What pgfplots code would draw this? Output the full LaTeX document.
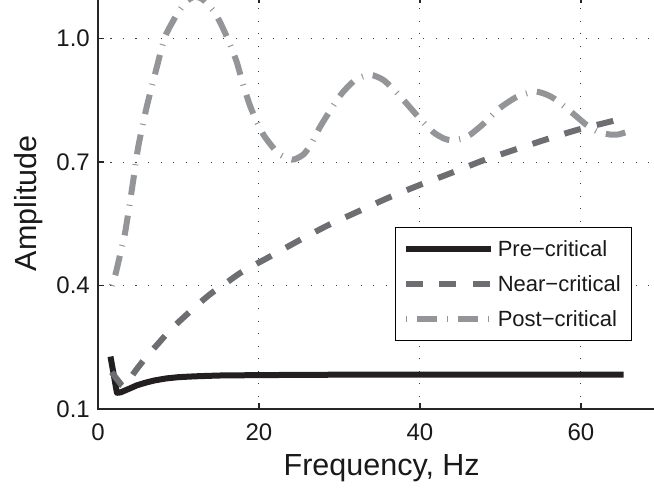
\documentclass[border=0pt]{standalone}
\usepackage{fontspec}
\setmainfont{Liberation Sans}
\usepackage{pgfplots}
\pgfplotsset{compat=1.18}
\definecolor{cpre}{HTML}{231F20}
\definecolor{cnear}{HTML}{6D6E71}
\definecolor{cpost}{HTML}{939598}
\begin{document}
\begin{tikzpicture}
\begin{axis}[
  at={(98pt,80.7pt)}, anchor=south west,
  scale only axis, width=563.5pt, height=412pt,
  xmin=0, xmax=70, ymin=0.1, ymax=1.1,
  xtick={0,20,40,60}, xticklabels={0,20,40,60},
  ytick={0.1,0.4,0.7,1.0}, yticklabels={0.1,0.4,0.7,1.0},
  /pgf/number format/assume math mode=true,
  tick align=inside, major tick length=6pt,
  tick style={line width=1.3pt, color=black!85},
  axis line style={line width=1.8pt, color=black!85},
  grid=major,
  major grid style={line width=1pt, color=black!75, dash pattern=on 1.2pt off 11.3pt},
  ticklabel style={font=\fontsize{24}{28}\selectfont, inner sep=0pt, text=black!90},
  xticklabel style={anchor=north, yshift=-14.5pt},
  yticklabel style={anchor=east, xshift=-8pt},
  xlabel={Frequency, Hz}, ylabel={Amplitude},
  label style={font=\fontsize{30.5}{36}\selectfont, inner sep=0pt, text=black!90},
  xlabel style={at={(axis description cs:0.5035,-0.1595)}, anchor=base},
  ylabel style={at={(axis description cs:-0.1083,0.5)}, anchor=base},
  legend style={at={(axis description cs:0.9482,0.4432)}, anchor=north east,
    draw=black, line width=1.3pt, fill=white, inner xsep=7pt, inner ysep=8.5pt,
    row sep=9pt, font=\fontsize{22}{26}\selectfont, text=black!90,
    nodes={inner xsep=4pt, inner ysep=2pt, text height=19pt, text depth=3pt}},
  legend cell align=left,
  legend image code/.code={\draw[#1] (0pt,0pt) -- (85pt,0pt);},
]
\addplot[color=cpre, line width=6pt, line join=round]
  coordinates {(1.55,0.228) (1.9,0.19) (2.35,0.14) (2.8,0.141) (3.4,0.146)
  (4.0,0.151) (4.8,0.158) (5.8,0.164) (7.0,0.170) (8.5,0.175) (10,0.178)
  (12,0.180) (15,0.182) (20,0.183) (30,0.184) (40,0.184) (50,0.184)
  (60,0.184) (65.3,0.184)};
\addlegendentry{Pre−critical}
\addplot[color=cnear, line width=6pt, smooth, tension=0.4, dash pattern=on 17pt off 16.5pt]
  coordinates {(1.7,0.19) (2.4,0.172) (3.1,0.156) (3.6,0.163) (4.6,0.192)
  (6.0,0.227) (7.5,0.260) (9.0,0.293) (10.8,0.326) (12.5,0.356) (14.1,0.382)
  (15.8,0.405) (17.6,0.430) (19.4,0.450) (21.2,0.469) (24.9,0.509)
  (28.5,0.546) (32.3,0.580) (35.9,0.612) (39.9,0.644) (43.8,0.673)
  (47.7,0.703) (51.6,0.729) (55.5,0.754) (59.5,0.778) (63.6,0.798)
  (64.6,0.803)};
\addlegendentry{Near−critical}
\addplot[color=cpost, line width=6pt, smooth, tension=0.4,
  dash pattern=on 20pt off 10pt on 1pt off 10pt, dash phase=30pt]
  coordinates {(1.7,0.40) (2.2,0.43) (2.8,0.48) (3.35,0.527) (4.2,0.632)
  (5.0,0.737) (6.05,0.834) (7.3,0.93) (8.3,1.003) (9.4,1.045) (10.0,1.065)
  (11.0,1.09) (12.0,1.102) (13.0,1.095) (13.9,1.077) (14.6,1.06) (15.4,1.03)
  (16.2,0.995) (17.2,0.945) (18.0,0.89) (18.9,0.836) (19.8,0.795)
  (20.7,0.762) (22.4,0.721) (24.1,0.706) (25.1,0.713) (25.7,0.722)
  (26.5,0.745) (27.6,0.786) (29,0.83) (30.3,0.867) (32,0.9) (33.8,0.912)
  (35.4,0.900) (36.8,0.875) (38.3,0.843) (40,0.805) (41.7,0.772)
  (43.0,0.757) (43.9,0.753) (45,0.756) (46.2,0.766) (48,0.795) (49.9,0.831)
  (52,0.858) (54.1,0.871) (55.3,0.867) (56.6,0.855) (59.0,0.818)
  (60.7,0.790) (62.2,0.773) (63.6,0.767) (64.6,0.767) (65.5,0.772)};
\addlegendentry{Post−critical}
\end{axis}
\pgfresetboundingbox
\path[use as bounding box] (0,0) rectangle (654pt,490pt);
\end{tikzpicture}
\end{document}
